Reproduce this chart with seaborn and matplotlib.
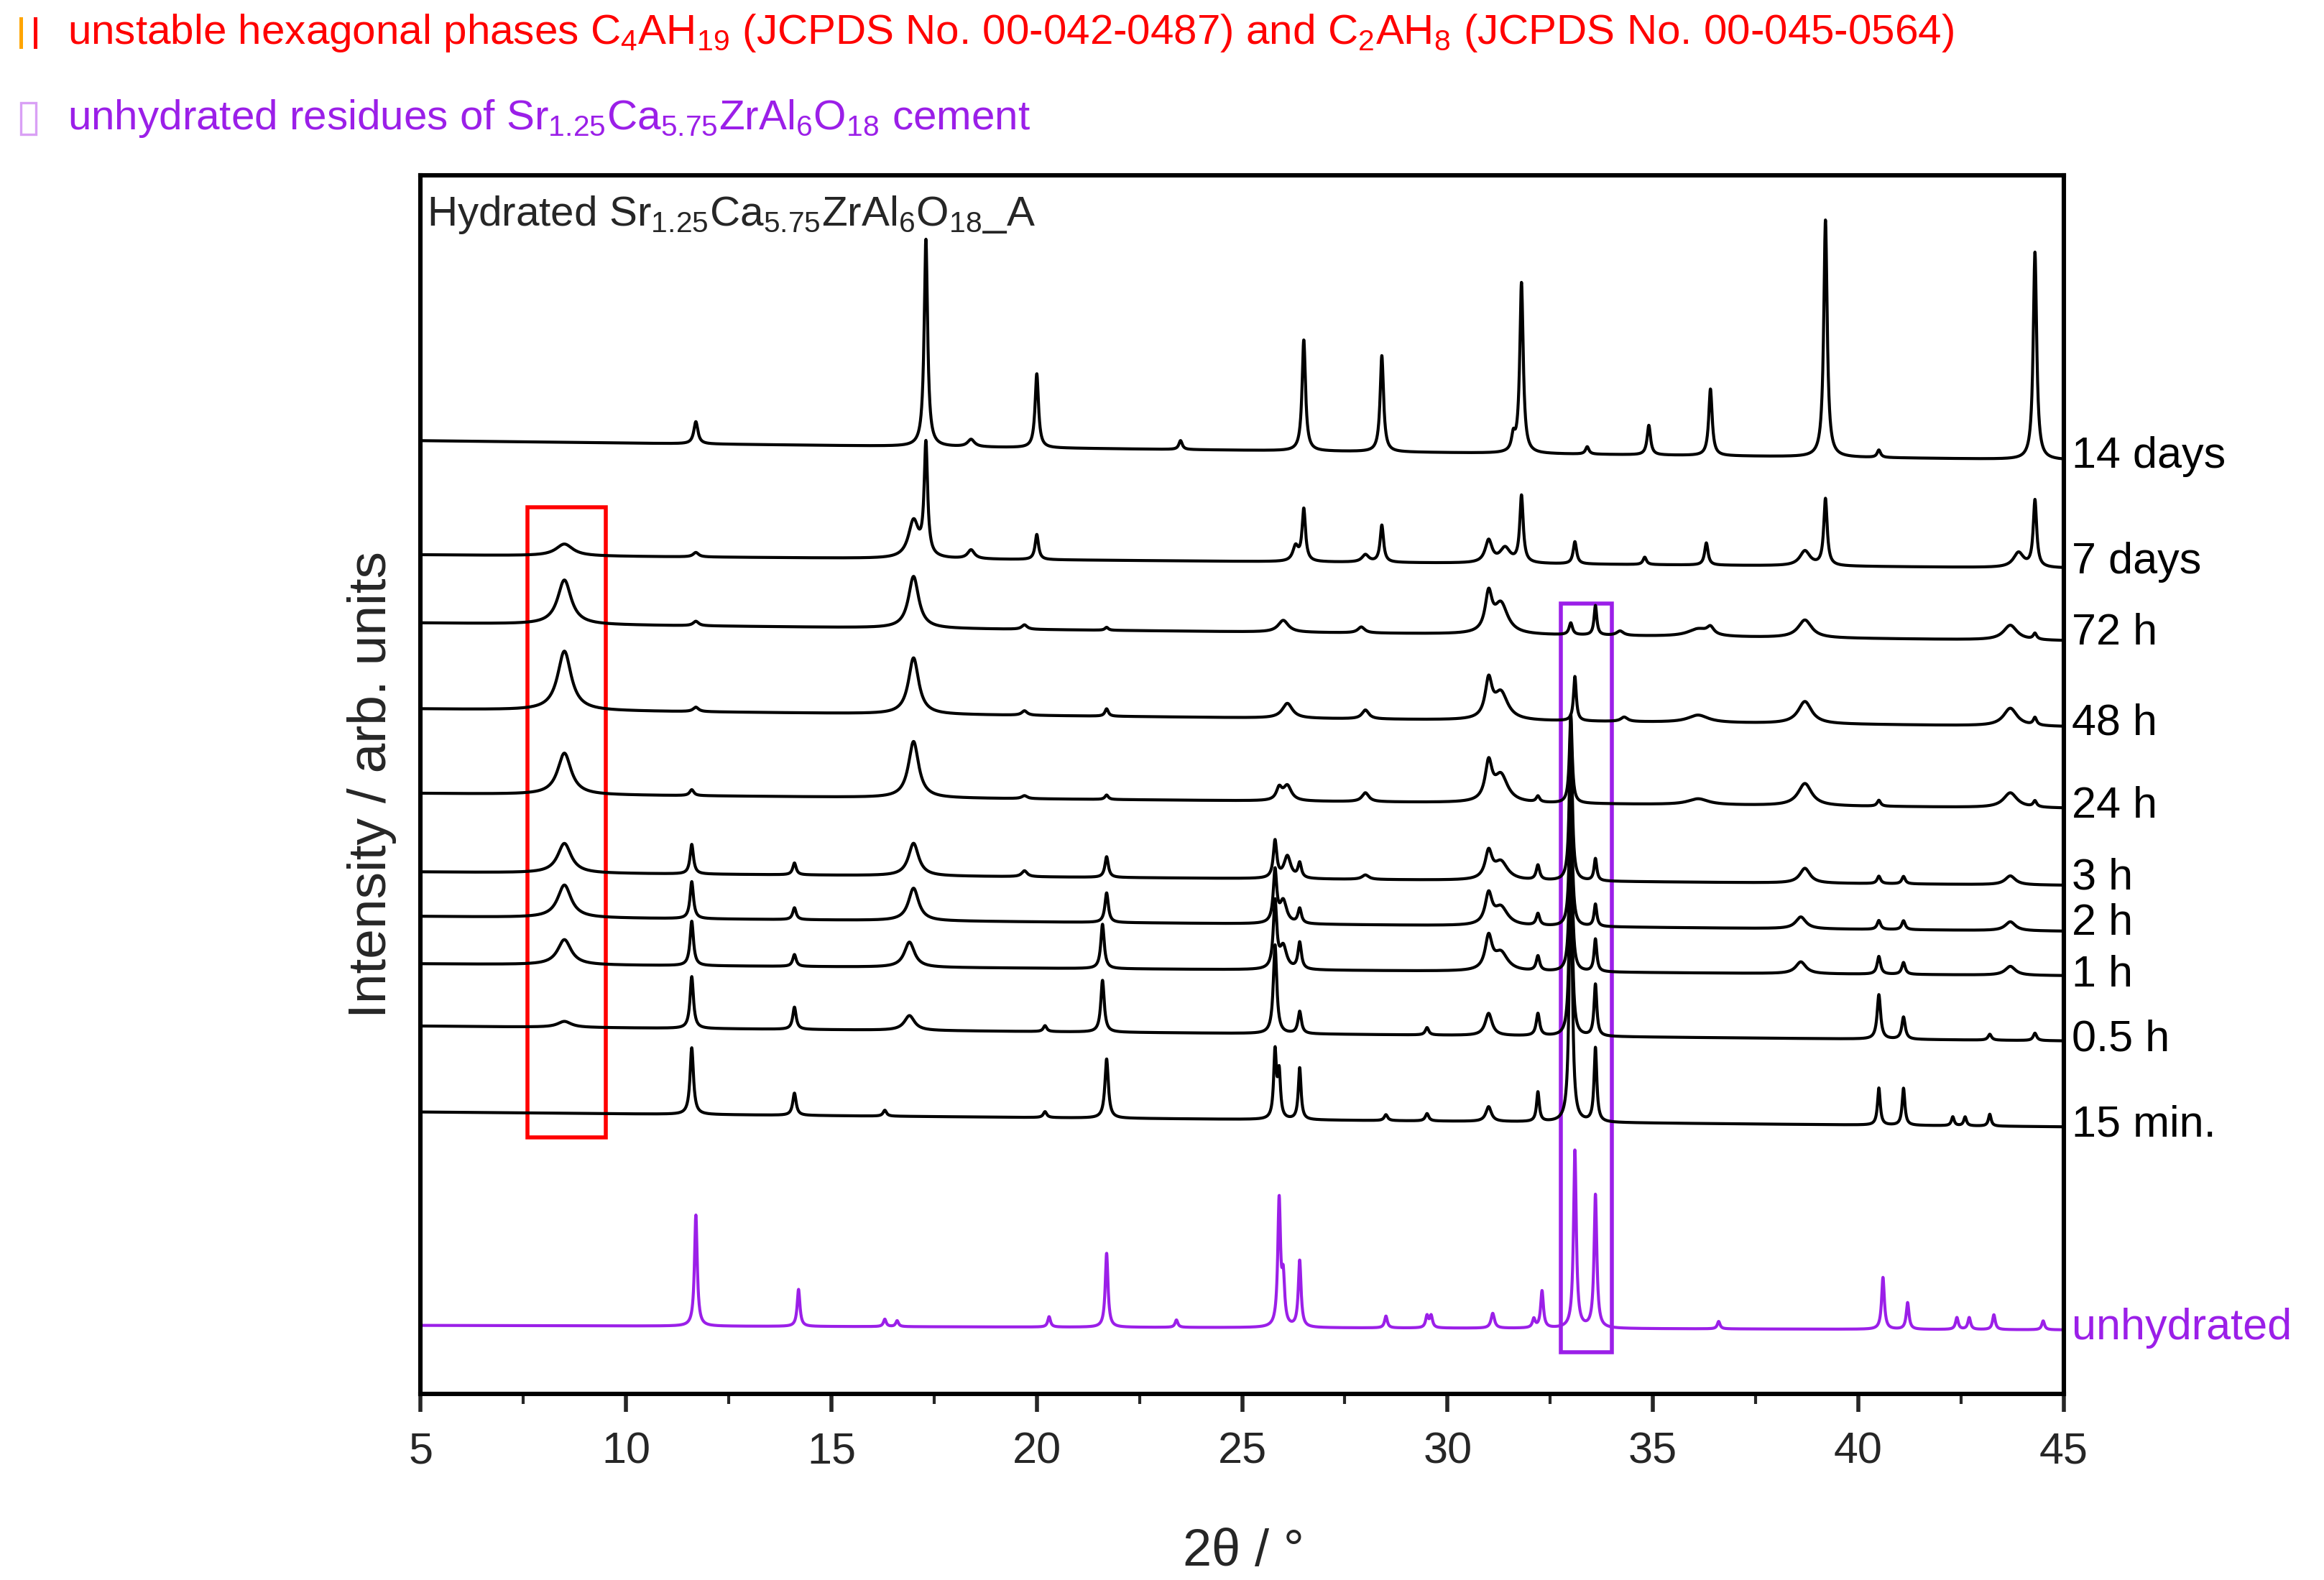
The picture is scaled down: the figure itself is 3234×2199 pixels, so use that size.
import numpy as np
import matplotlib
matplotlib.use('Agg')
import matplotlib.pyplot as plt
import seaborn as sns
from matplotlib.patches import Rectangle

sns.set_style('white')
plt.rcParams['font.family'] = ['Liberation Sans', 'DejaVu Sans']
plt.rcParams['mathtext.fontset'] = 'custom'
plt.rcParams['mathtext.rm'] = 'Liberation Sans'
plt.rcParams['mathtext.it'] = 'Liberation Sans'

# patterns: label, baseline at 5 deg, baseline at 45 deg, peaks (2theta, height, width)
labels = ['14 days', '7 days', '72 h', '48 h', '24 h', '3 h', '2 h', '1 h', '0.5 h', '15 min.', 'unhydrated']
base_left = [643, 566, 520, 462, 405, 352, 322, 290, 248, 190, 46]
base_right = [630, 557, 508, 450, 395, 343, 312, 282, 238, 180, 43]
label_y = [632, 561, 513, 452, 396, 348, 317, 282, 239, 181, 44]
peaks = [
    [(11.7, 15, .06), (17.3, 140, .05), (18.4, 5, .1), (20.0, 50, .05), (23.5, 6, .05), (26.5, 75, .05),
     (28.4, 65, .05), (31.6, 10, .05), (31.8, 115, .05), (33.4, 5, .05), (34.9, 20, .05), (36.4, 45, .05),
     (39.2, 160, .05), (40.5, 5, .05), (44.3, 140, .05)],
    [(8.5, 8, .25), (11.7, 3, .08), (17.0, 25, .15), (17.3, 75, .05), (18.4, 6, .1), (20.0, 17, .05),
     (26.3, 10, .08), (26.5, 35, .05), (28.0, 5, .1), (28.4, 25, .05), (31.0, 15, .1), (31.4, 10, .15),
     (31.8, 45, .05), (33.1, 15, .05), (34.8, 5, .05), (36.3, 15, .05), (38.7, 10, .15), (39.2, 45, .05),
     (43.9, 10, .15), (44.3, 45, .05)],
    [(8.5, 30, .2), (11.7, 3, .08), (17.0, 35, .15), (19.7, 3, .08), (21.7, 2, .05), (26.0, 8, .15),
     (27.9, 4, .1), (31.0, 25, .1), (31.3, 20, .2), (33.0, 8, .05), (33.6, 20, .04), (34.2, 3, .1),
     (36.1, 5, .3), (36.4, 5, .1), (38.7, 12, .2), (43.7, 10, .2), (44.3, 4, .05)],
    [(8.5, 40, .2), (11.7, 3, .08), (17.0, 38, .15), (19.7, 3, .08), (21.7, 5, .05), (26.1, 10, .15),
     (28.0, 6, .1), (31.0, 25, .1), (31.3, 18, .2), (33.1, 30, .04), (34.3, 3, .1), (36.1, 5, .3),
     (38.7, 15, .2), (43.7, 12, .2), (44.3, 5, .05)],
    [(8.5, 28, .2), (11.6, 4, .06), (17.0, 38, .15), (19.7, 2, .08), (21.7, 3, .05), (25.9, 8, .08),
     (26.1, 10, .12), (28.0, 6, .1), (31.0, 25, .1), (31.3, 18, .2), (32.2, 4, .05), (33.0, 60, .04),
     (36.1, 4, .3), (38.7, 15, .2), (40.5, 4, .05), (43.7, 10, .2), (44.3, 4, .05)],
    [(8.5, 20, .2), (11.6, 20, .05), (14.1, 8, .05), (17.0, 22, .15), (19.7, 4, .08), (21.7, 14, .05),
     (25.8, 25, .05), (26.1, 15, .1), (26.4, 10, .05), (28.0, 3, .1), (31.0, 18, .1), (31.3, 12, .2),
     (32.2, 10, .05), (33.0, 110, .04), (33.6, 15, .04), (38.7, 10, .15), (40.5, 5, .05), (41.1, 5, .05),
     (43.7, 6, .15)],
    [(8.5, 22, .2), (11.6, 25, .05), (14.1, 8, .05), (17.0, 22, .15), (21.7, 20, .05), (25.8, 35, .05),
     (26.0, 15, .1), (26.4, 10, .05), (31.0, 20, .1), (31.3, 12, .2), (32.2, 8, .05), (33.0, 100, .04),
     (33.6, 15, .04), (38.6, 8, .15), (40.5, 6, .05), (41.1, 6, .05), (43.7, 6, .15)],
    [(8.5, 17, .2), (11.6, 30, .05), (14.1, 8, .05), (16.9, 17, .15), (21.6, 30, .05), (25.8, 45, .05),
     (26.0, 15, .1), (26.4, 18, .05), (31.0, 22, .1), (31.3, 12, .2), (32.2, 10, .05), (33.0, 110, .04),
     (33.6, 22, .04), (38.6, 8, .15), (40.5, 12, .05), (41.1, 8, .05), (43.7, 6, .15)],
    [(8.5, 4, .2), (11.6, 35, .05), (14.1, 15, .05), (16.9, 10, .15), (20.2, 4, .05), (21.6, 35, .05),
     (25.8, 60, .05), (26.4, 15, .05), (29.5, 5, .05), (31.0, 15, .1), (32.2, 15, .05), (33.0, 140, .04),
     (33.6, 35, .04), (40.5, 30, .05), (41.1, 15, .05), (43.2, 4, .05), (44.3, 5, .05)],
    [(11.6, 45, .05), (14.1, 15, .05), (16.3, 4, .05), (20.2, 4, .05), (21.7, 40, .05), (25.8, 45, .04),
     (25.9, 30, .04), (26.4, 35, .04), (28.5, 4, .05), (29.5, 5, .05), (31.0, 10, .08), (32.2, 20, .04),
     (33.0, 200, .04), (33.6, 50, .04), (40.5, 25, .04), (41.1, 25, .04), (42.3, 6, .04), (42.6, 6, .04),
     (43.2, 8, .04)],
    [(11.7, 75, .04), (14.2, 25, .04), (16.3, 5, .04), (16.6, 4, .04), (20.3, 7, .04), (21.7, 50, .04),
     (23.4, 5, .04), (25.9, 85, .04), (26.0, 30, .04), (26.4, 45, .04), (28.5, 8, .04), (29.5, 8, .04),
     (29.6, 8, .04), (31.1, 10, .05), (32.1, 6, .04), (32.3, 25, .04), (33.1, 120, .04), (33.6, 90, .04),
     (36.6, 5, .04), (40.6, 35, .04), (41.2, 18, .04), (42.4, 8, .04), (42.7, 8, .04), (43.3, 10, .04),
     (44.5, 6, .04)],
]
colors = ['black'] * 10 + ['#9b1fe8']

two_theta = np.linspace(5, 45, 8000)

fig = plt.figure(figsize=(16.17, 10.995), dpi=200)
ax = fig.add_axes([0.181, 0.118, 0.707, 0.771])

for lab, bl, br, ly, pk, c in zip(labels, base_left, base_right, label_y, peaks, colors):
    y = bl + (br - bl) * (two_theta - 5) / 40
    for pos, h, w in pk:
        y = y + h / (1 + ((two_theta - pos) / w) ** 2)
    sns.lineplot(x=two_theta, y=y, color=c, lw=1.5, ax=ax)
    ax.text(45.2, ly, lab, color=c, fontsize=22, va='center', ha='left', clip_on=False)

ax.add_patch(Rectangle((7.6, 173), 1.9, 425, fill=False, ec='red', lw=2))
ax.add_patch(Rectangle((32.75, 28), 1.25, 505, fill=False, ec='#9b1fe8', lw=2))

ax.set_xlim(5, 45)
ax.set_ylim(0, 822)
ax.set_yticks([])
ax.set_xticks(range(5, 46, 5))
ax.set_xticks(np.arange(7.5, 45, 5), minor=True)
ax.tick_params(axis='x', which='major', direction='out', length=9, width=2, labelsize=22, pad=10, bottom=True)
ax.tick_params(axis='x', which='minor', direction='out', length=5, width=1.5, bottom=True)
for s in ax.spines.values():
    s.set_linewidth(2.2)
    s.set_color('black')
ax.set_xlabel(r'2$\theta$ / °', fontsize=26, labelpad=28)
ax.set_ylabel('Intensity / arb. units', fontsize=27, labelpad=12)

ax.text(0.004, 0.985, r'Hydrated Sr$_{1.25}$Ca$_{5.75}$ZrAl$_6$O$_{18}$_A', transform=ax.transAxes,
        fontsize=21, va='top', ha='left')

fig.text(0.029, 0.979, r'unstable hexagonal phases C$_4$AH$_{19}$ (JCPDS No. 00-042-0487) and C$_2$AH$_8$ (JCPDS No. 00-045-0564)',
         color='red', fontsize=21, va='center')
fig.text(0.029, 0.925, r'unhydrated residues of Sr$_{1.25}$Ca$_{5.75}$ZrAl$_6$O$_{18}$ cement',
         color='#9b1fe8', fontsize=21, va='center')
fig.add_artist(Rectangle((0.0085, 0.969), 0.0015, 0.02, transform=fig.transFigure, color='orange', lw=0))
fig.add_artist(Rectangle((0.0145, 0.969), 0.0015, 0.02, transform=fig.transFigure, color='red', lw=0))
fig.add_artist(Rectangle((0.009, 0.915), 0.0065, 0.02, transform=fig.transFigure, fill=False, ec='#d9a0f5', lw=1.2))

fig.savefig('out.png', dpi=200)
